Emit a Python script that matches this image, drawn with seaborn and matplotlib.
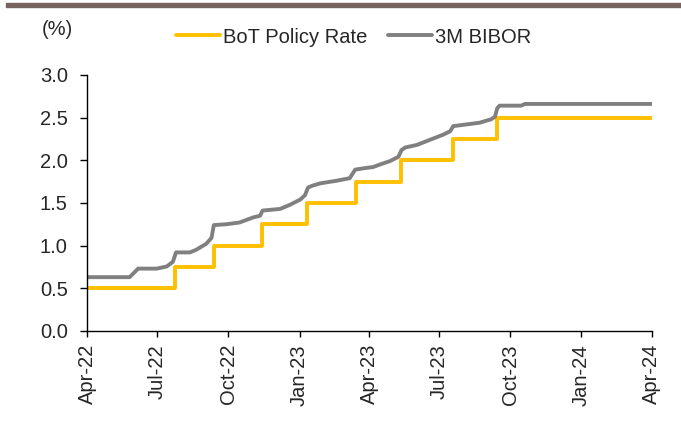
import matplotlib
matplotlib.use("Agg")
import matplotlib.pyplot as plt
import matplotlib.patches as mpatches
import seaborn as sns
import pandas as pd

# BoT policy rate (step changes)
bot_dates = ["2022-04-01", "2022-07-24", "2022-09-12", "2022-11-13", "2023-01-10",
             "2023-03-15", "2023-05-13", "2023-07-19", "2023-09-14", "2024-04-01"]
bot_rate = [0.50, 0.75, 1.00, 1.25, 1.50, 1.75, 2.00, 2.25, 2.50, 2.50]

# 3M BIBOR
bibor_dates = ["2022-04-01", "2022-05-26", "2022-06-06", "2022-06-30", "2022-07-13", "2022-07-21",
               "2022-07-25", "2022-08-12", "2022-08-20", "2022-09-02", "2022-09-09", "2022-09-12",
               "2022-09-28", "2022-10-15", "2022-11-02", "2022-11-11", "2022-11-14", "2022-12-07",
               "2022-12-20", "2023-01-02", "2023-01-08", "2023-01-12", "2023-01-17", "2023-01-28",
               "2023-02-18", "2023-03-07", "2023-03-14", "2023-03-28", "2023-04-06", "2023-04-15",
               "2023-04-28", "2023-05-09", "2023-05-13", "2023-05-18", "2023-06-02", "2023-06-19",
               "2023-07-06", "2023-07-15", "2023-07-19", "2023-08-05", "2023-08-22", "2023-09-06",
               "2023-09-11", "2023-09-14", "2023-09-17", "2023-10-15", "2023-10-20", "2024-04-01"]
bibor_rate = [0.63, 0.63, 0.73, 0.73, 0.755, 0.81,
              0.92, 0.92, 0.95, 1.02, 1.09, 1.24,
              1.25, 1.27, 1.33, 1.35, 1.41, 1.43,
              1.48, 1.54, 1.59, 1.68, 1.70, 1.73,
              1.76, 1.79, 1.89, 1.91, 1.92, 1.95,
              1.99, 2.04, 2.12, 2.15, 2.18, 2.24,
              2.30, 2.34, 2.40, 2.42, 2.44, 2.48,
              2.51, 2.61, 2.64, 2.64, 2.66, 2.66]

tick_dates = ["2022-04-01", "2022-07-01", "2022-10-01", "2023-01-01", "2023-04-01",
              "2023-07-01", "2023-10-01", "2024-01-01", "2024-04-01"]
tick_labels = ["Apr-22", "Jul-22", "Oct-22", "Jan-23", "Apr-23", "Jul-23", "Oct-23", "Jan-24", "Apr-24"]
y_ticks = [0.0, 0.5, 1.0, 1.5, 2.0, 2.5, 3.0]

FS = 14.5

sns.set_style("white")
plt.rcParams["font.family"] = ["Liberation Sans", "DejaVu Sans"]
plt.rcParams["font.size"] = FS

bot = pd.DataFrame({"date": pd.to_datetime(bot_dates), "rate": bot_rate})
bib = pd.DataFrame({"date": pd.to_datetime(bibor_dates), "rate": bibor_rate})

fig = plt.figure(figsize=(6.81, 4.21), dpi=100)
ax = fig.add_axes([0.128, 0.214, 0.829, 0.608])

sns.lineplot(data=bot, x="date", y="rate", ax=ax, color="#FFC000", linewidth=2.8,
             drawstyle="steps-post", label="BoT Policy Rate", solid_capstyle="round")
sns.lineplot(data=bib, x="date", y="rate", ax=ax, color="#808080", linewidth=2.8,
             label="3M BIBOR", solid_capstyle="round")

ax.set_xlim(pd.Timestamp("2022-04-01"), pd.Timestamp("2024-04-01"))
ax.set_ylim(0, 3.0)
ax.set_yticks(y_ticks)
ax.set_yticklabels([f"{v:.1f}" for v in y_ticks], fontsize=FS)
ax.set_xticks(pd.to_datetime(tick_dates))
ax.set_xticklabels(tick_labels, rotation=90, fontsize=FS)
ax.set_xlabel("")
ax.set_ylabel("")

for s in ["top", "right"]:
    ax.spines[s].set_visible(False)
for s in ["left", "bottom"]:
    ax.spines[s].set_color("black")
    ax.spines[s].set_linewidth(1.0)
ax.tick_params(axis="y", direction="out", length=5, width=1, color="black", pad=9, left=True)
ax.tick_params(axis="x", direction="out", length=4.5, width=1, color="black", pad=5, bottom=True)

leg = ax.legend(loc="center", ncol=2, frameon=False,
                handlelength=2.2, handletextpad=0.15, columnspacing=1.0, fontsize=FS)
leg.set_bbox_to_anchor((0.519, 0.912), transform=fig.transFigure)

fig.text(0.0617, 0.929, "(%)", fontsize=FS, ha="left", va="center")

# top decorative bar
fig.patches.append(mpatches.Rectangle((6 / 681, 1 - 7 / 421), 1, 4 / 421, transform=fig.transFigure,
                                      color="#76625E", zorder=0))

fig.savefig("out.png", dpi=100)
